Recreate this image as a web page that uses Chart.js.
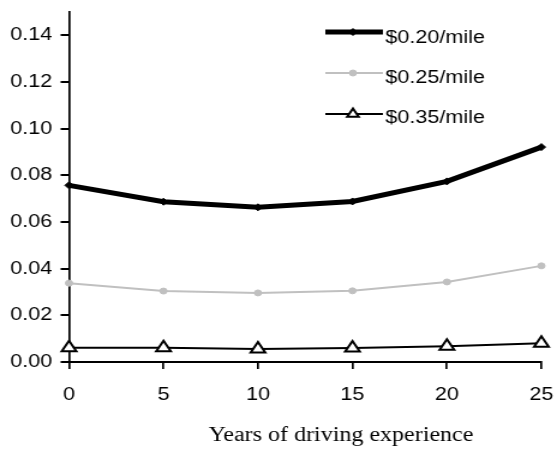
<!DOCTYPE html>
<html>
<head>
<meta charset="utf-8">
<script src="https://cdn.jsdelivr.net/npm/chart.js@4.4.1/dist/chart.umd.min.js"></script>
<style>
  html, body { margin: 0; padding: 0; background: #fff; }
</style>
</head>
<body>
<!-- the reference is stretched sideways, so draw narrow and widen with inline css -->
<canvas id="costChart" width="464" height="449" style="width:557px;height:449px;display:block"></canvas>
<script>
var years = ["0", "5", "10", "15", "20", "25"];
var seriesNames = ["$0.20/mile", "$0.25/mile", "$0.35/mile"];
var cost20 = [0.0757, 0.0687, 0.0663, 0.0688, 0.0774, 0.0921];
var cost25 = [0.0338, 0.0304, 0.0296, 0.0305, 0.0343, 0.0412];
var cost35 = [0.0061, 0.0061, 0.0056, 0.0060, 0.0068, 0.0080];
var yTicks = [0, 0.02, 0.04, 0.06, 0.08, 0.10, 0.12, 0.14];
var xTitle = "Years of driving experience";

Chart.defaults.font.family = "'Liberation Sans', Arial, sans-serif";
Chart.defaults.font.size = 18;
Chart.defaults.color = "#000";

function drawMarker(ctx, style, x, y, r, fill, stroke, lw) {
  ctx.save();
  ctx.beginPath();
  if (style == "rectRot") {
    ctx.moveTo(x, y - r); ctx.lineTo(x + r, y); ctx.lineTo(x, y + r); ctx.lineTo(x - r, y);
    ctx.closePath();
  } else if (style == "triangle") {
    ctx.moveTo(x, y - r);
    ctx.lineTo(x + r * 0.866, y + r / 2);
    ctx.lineTo(x - r * 0.866, y + r / 2);
    ctx.closePath();
  } else {
    ctx.arc(x, y, r, 0, Math.PI * 2);
  }
  ctx.fillStyle = fill;
  ctx.fill();
  ctx.lineWidth = lw;
  ctx.strokeStyle = stroke;
  ctx.stroke();
  ctx.restore();
}

// legend sits inside the plot, top right
var legendBox = {
  id: "legendBox",
  afterDraw: function(chart) {
    var ctx = chart.ctx;
    var rowsLine = [32, 73, 114];
    var rowsText = [43, 83, 123];
    chart.data.datasets.forEach(function(ds, i) {
      ctx.save();
      ctx.strokeStyle = ds.borderColor;
      ctx.lineWidth = ds.borderWidth;
      ctx.beginPath();
      ctx.moveTo(271, rowsLine[i]);
      ctx.lineTo(319, rowsLine[i]);
      ctx.stroke();
      ctx.restore();
      var r = ds.pointStyle == "triangle" ? 5.5 : ds.pointRadius;
      drawMarker(ctx, ds.pointStyle, 294, rowsLine[i], r, ds.pointBackgroundColor, ds.pointBorderColor, ds.pointBorderWidth);
      ctx.save();
      ctx.font = "18px 'Liberation Sans', Arial, sans-serif";
      ctx.fillStyle = "#000";
      ctx.textAlign = "left";
      ctx.textBaseline = "alphabetic";
      ctx.fillText(ds.label, 321, rowsText[i]);
      ctx.restore();
    });
  }
};

var axisTitle = {
  id: "axisTitle",
  afterDraw: function(chart) {
    var ctx = chart.ctx;
    ctx.save();
    ctx.font = "20px 'Liberation Serif', 'Times New Roman', serif";
    ctx.fillStyle = "#000";
    ctx.textAlign = "center";
    ctx.textBaseline = "alphabetic";
    ctx.fillText(xTitle, 284, 441);
    ctx.restore();
  }
};

new Chart("costChart", {
  type: "line",
  data: {
    labels: years,
    datasets: [{
      label: seriesNames[0],
      data: cost20,
      borderColor: "#000",
      borderWidth: 5,
      pointStyle: "rectRot",
      pointRadius: 3.5,
      pointBackgroundColor: "#000",
      pointBorderColor: "#000",
      pointBorderWidth: 1,
      clip: false
    }, {
      label: seriesNames[1],
      data: cost25,
      borderColor: "#c0c0c0",
      borderWidth: 2,
      pointStyle: "circle",
      pointRadius: 3,
      pointBackgroundColor: "#c0c0c0",
      pointBorderColor: "#c0c0c0",
      pointBorderWidth: 1,
      clip: false
    }, {
      label: seriesNames[2],
      data: cost35,
      borderColor: "#000",
      borderWidth: 2,
      pointStyle: "triangle",
      pointRadius: 7,
      pointBackgroundColor: "#fff",
      pointBorderColor: "#000",
      pointBorderWidth: 2,
      clip: false
    }]
  },
  options: {
    responsive: false,
    animation: false,
    layout: {
      padding: { top: 12, right: 13, left: 0, bottom: 0 }
    },
    plugins: {
      legend: { display: false },
      tooltip: { enabled: false }
    },
    scales: {
      x: {
        offset: false,
        border: { display: true, color: "#000", width: 2 },
        grid: {
          drawOnChartArea: false,
          drawTicks: true,
          tickLength: 7,
          color: "#000",
          lineWidth: 1.7
        },
        ticks: { padding: 15, maxRotation: 0, autoSkip: false },
        afterFit: function(scale) {
          scale.height = 87;
          scale.paddingLeft = 0;
          scale.paddingRight = 0;
        }
      },
      y: {
        min: 0,
        max: 0.15,
        border: { display: true, color: "#000", width: 1.7 },
        grid: {
          drawOnChartArea: false,
          drawTicks: true,
          tickLength: 7,
          color: "#000",
          lineWidth: 2
        },
        ticks: {
          padding: 7,
          includeBounds: false,
          callback: function(value) { return value.toFixed(2); }
        },
        afterBuildTicks: function(scale) {
          scale.ticks = yTicks.map(function(v) { return { value: v }; });
        },
        afterFit: function(scale) {
          scale.width = 57.5;
          scale.paddingTop = 0;
          scale.paddingBottom = 0;
        }
      }
    }
  },
  plugins: [legendBox, axisTitle]
});
</script>
</body>
</html>
